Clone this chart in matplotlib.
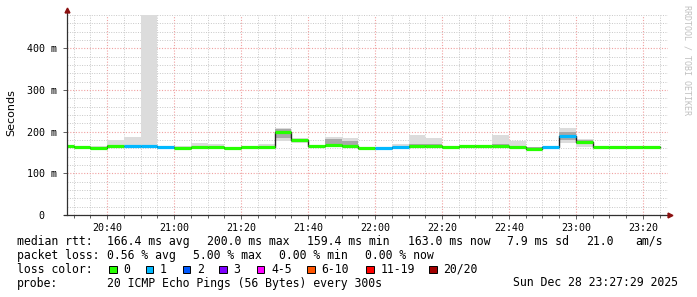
"""SmokePing style latency graph: median rtt with smoke and loss colours."""

import matplotlib.pyplot as plt
import matplotlib.patches as mpatches
import numpy as np

# interval starts (5 min steps), values in ms
starts = ["20:25", "20:30", "20:35", "20:40", "20:45", "20:50", "20:55", "21:00", "21:05",
          "21:10", "21:15", "21:20", "21:25", "21:30", "21:35", "21:40", "21:45", "21:50",
          "21:55", "22:00", "22:05", "22:10", "22:15", "22:20", "22:25", "22:30", "22:35",
          "22:40", "22:45", "22:50", "22:55", "23:00", "23:05", "23:10", "23:15", "23:20"]
median = [166, 164, 161, 166, 166, 166, 163, 162, 164,
          164, 162, 164, 164, 200, 181, 166, 169, 166,
          162, 161, 164, 165, 166, 164, 165, 165, 165,
          163, 159.4, 163, 189, 175, 163, 163, 164, 163]
lost = [0, 0, 0, 0, 1, 1, 1, 0, 0,
        0, 0, 0, 0, 0, 0, 0, 0, 0,
        0, 1, 1, 0, 0, 0, 0, 0, 0,
        0, 0, 1, 1, 0, 0, 0, 0, 0]
smoke_lo = [164, 162, 159, 163, 164, 164, 162, 161, 162,
            162, 161, 162, 162, 178, 172, 164, 166, 164,
            161, 160, 162, 163, 164, 163, 164, 164, 163,
            161, 158, 162, 172, 164, 162, 162, 162, 162]
smoke_hi = [167, 165, 166, 180, 188, 480, 164, 166, 172,
            170, 163, 166, 170, 210, 184, 167, 188, 186,
            164, 162, 170, 193, 185, 165, 166, 166, 193,
            178, 164, 164, 208, 182, 164, 164, 166, 164]
inner_lo = [166, 164, 161, 165, 166, 166, 163, 162, 164,
            164, 162, 164, 164, 184, 175, 166, 170, 166,
            162, 161, 164, 165, 166, 164, 165, 165, 167,
            163, 161, 163, 180, 170, 163, 163, 164, 163]
inner_hi = [166, 164, 161, 168, 166, 166, 163, 162, 164,
            164, 162, 164, 164, 206, 182, 166, 182, 178,
            162, 161, 164, 170, 170, 164, 165, 165, 171,
            166, 164, 163, 200, 180, 163, 163, 164, 163]

time_labels = ["20:40", "21:00", "21:20", "21:40", "22:00", "22:20", "22:40", "23:00", "23:20"]
y_ticks = [0, 100, 200, 300, 400]
y_labels = ["0  ", "100 m", "200 m", "300 m", "400 m"]

loss_names = ["0", "1", "2", "3", "4-5", "6-10", "11-19", "20/20"]
loss_colors = ["#26ff00", "#00b8ff", "#0059ff", "#7e00ff", "#ff00ff", "#ff5500", "#ff0000", "#a10000"]


def to_min(s):
    h, m = s.split(":")
    return (int(h) - 20) * 60 + int(m)


x0 = np.array([to_min(s) for s in starts], dtype=float)
med = np.array(median)
W, H = 697, 297

fig = plt.figure(figsize=(W / 100, H / 100), dpi=100)
ax = fig.add_axes([67 / W, 1 - 215 / H, 601 / W, 200 / H])

# smoke
ax.bar(x0, np.array(smoke_hi) - np.array(smoke_lo), bottom=smoke_lo, width=5,
       align="edge", color="#dcdcdc", linewidth=0, zorder=2)
ax.bar(x0, np.array(inner_hi) - np.array(inner_lo), bottom=inner_lo, width=5,
       align="edge", color="#a8a8a8", linewidth=0, zorder=3)

# median step line + loss coloured segments
edges = np.append(x0, x0[-1] + 5)
ax.step(edges, np.append(med, med[-1]), where="post", color="#202020", lw=1.0, zorder=4)
seg_colors = [loss_colors[min(l, 7)] for l in lost]
ax.hlines(med, x0, x0 + 5, colors=seg_colors, lw=2.3, zorder=5)

ax.set_xlim(28, 207.5)
ax.set_ylim(0, 480)
ax.set_xticks([to_min(t) for t in time_labels])
ax.set_xticklabels(time_labels)
ax.set_xticks(np.arange(30, 207, 5), minor=True)
ax.set_yticks(y_ticks)
ax.set_yticklabels(y_labels)
ax.set_yticks(np.arange(20, 481, 20), minor=True)

ax.grid(which="minor", color="#c8c8c8", linestyle=(0, (1, 1.5)), lw=0.7)
ax.grid(which="major", color="#f0a0a0", linestyle=(0, (1, 1.5)), lw=0.8)
ax.set_axisbelow(True)

for sp in ax.spines.values():
    sp.set_visible(False)
mono = "DejaVu Sans Mono"
ax.tick_params(axis="both", which="both", labelsize=7.2, color="#606060", width=0.7)
ax.tick_params(axis="x", which="major", length=3, pad=3)
ax.tick_params(axis="x", which="minor", length=2)
ax.tick_params(axis="y", which="major", length=3, pad=4)
ax.tick_params(axis="y", which="minor", length=0)
for lab in ax.get_xticklabels() + ax.get_yticklabels():
    lab.set_family(mono)

# axes with arrows
ax.plot([0, 0], [0, 1.025], transform=ax.transAxes, color="#303030", lw=0.9, clip_on=False, zorder=6)
ax.plot([-0.005, 1.004], [0, 0], transform=ax.transAxes, color="#303030", lw=0.9, clip_on=False, zorder=6)
ax.plot([0], [1.025], marker="^", ms=3.5, color="#8b1010", transform=ax.transAxes, clip_on=False, zorder=7)
ax.plot([1.004], [0], marker=">", ms=3.5, color="#8b1010", transform=ax.transAxes, clip_on=False, zorder=7)

fig.text(11 / W, 1 - 113 / H, "Seconds", rotation=90, ha="center", va="center", fontsize=8)
fig.text(687 / W, 1 - 5 / H, "RRDTOOL / TOBI OETIKER", rotation=270, ha="center", va="top",
         fontsize=6, family=mono, color="#c0c0c0")


def put(x, y, s):
    fig.text(x / W, 1 - y / H, s, ha="left", va="center", fontsize=8.3, family=mono)


put(16.7, 241.3, "median rtt:")
put(107.3, 241.3, "166.4 ms avg")
put(207.3, 241.3, "200.0 ms max")
put(307.3, 241.3, "159.4 ms min")
put(408, 241.3, "163.0 ms now")
put(507, 241.3, "7.9 ms sd")
put(586.3, 241.3, "21.0")
put(635.3, 241.3, "am/s")

put(16.7, 255.3, "packet loss:")
put(107.3, 255.3, "0.56 % avg")
put(192.7, 255.3, "5.00 % max")
put(279.3, 255.3, "0.00 % min")
put(365.3, 255.3, "0.00 % now")

put(16.7, 269.3, "loss color:")
box_x = [109, 145.7, 182.7, 219.3, 256.7, 307.3, 366, 429.3]
for bx, name, col in zip(box_x, loss_names, loss_colors):
    fig.add_artist(mpatches.Rectangle((bx / W, 1 - 273 / H), 7.5 / W, 7.5 / H,
                                      facecolor=col, edgecolor="black", lw=0.7))
    put(bx + 14.3, 269.3, name)

put(16.7, 283, "probe:")
put(107.3, 283, "20 ICMP Echo Pings (56 Bytes) every 300s")
put(513, 283, "Sun Dec 28 23:27:29 2025")

fig.savefig("out.png", dpi=100)
